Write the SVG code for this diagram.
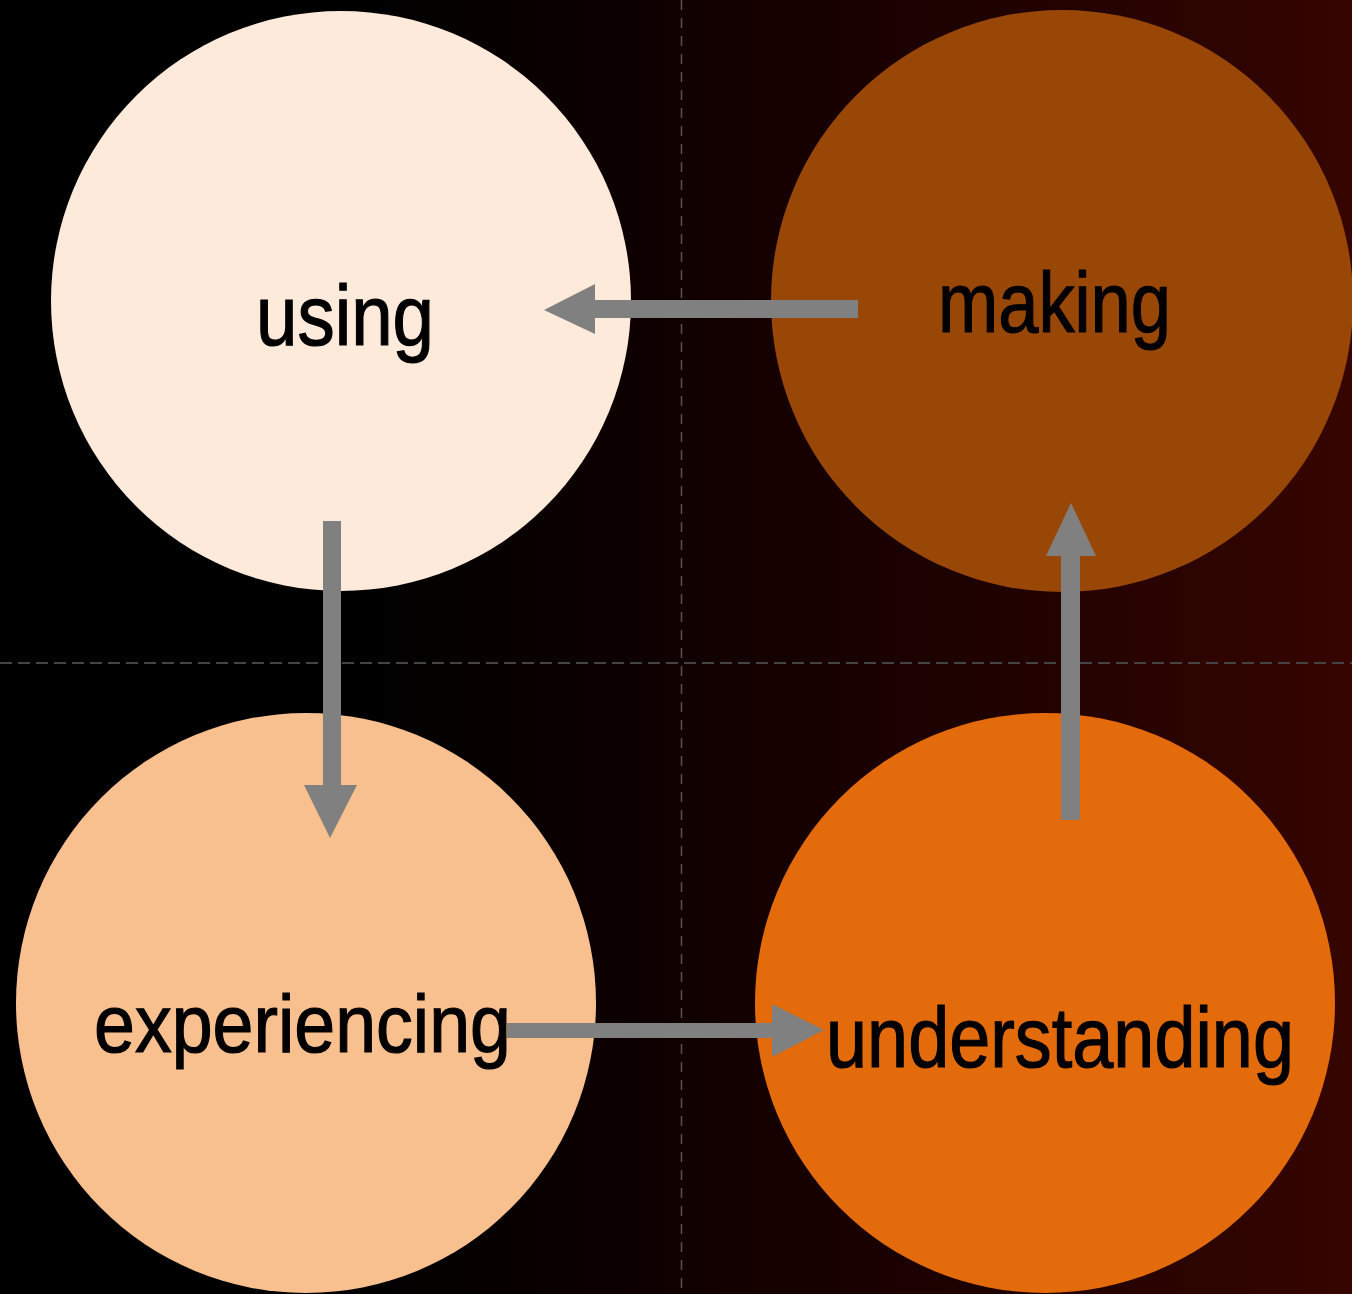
<svg xmlns="http://www.w3.org/2000/svg" width="1352" height="1294" viewBox="0 0 1352 1294">
  <defs>
    <linearGradient id="bg" x1="0" y1="0" x2="1352" y2="0" gradientUnits="userSpaceOnUse">
      <stop offset="0" stop-color="#000000"/>
      <stop offset="0.27" stop-color="#000000"/>
      <stop offset="0.5" stop-color="#100000"/>
      <stop offset="0.75" stop-color="#200200"/>
      <stop offset="1" stop-color="#360500"/>
    </linearGradient>
    <style>
      .lbl { font-family: "Liberation Sans Narrow", "Liberation Sans", Arial, sans-serif; fill: #000; stroke: #000; stroke-width: 1.2; text-anchor: middle; }
      .arrow { fill: #808080; }
    </style>
  </defs>
  <rect x="0" y="0" width="1352" height="1294" fill="url(#bg)"/>
  <g id="grid">
    <line x1="681.5" y1="0" x2="681.5" y2="1294" stroke="#555" stroke-width="1.5" stroke-dasharray="10 8"/>
    <line x1="0" y1="663" x2="1352" y2="663" stroke="#444" stroke-width="2" stroke-dasharray="12 6"/>
  </g>
  <g id="node-using">
    <circle cx="341" cy="301" r="290" fill="#fdeadb"/>
    <text class="lbl" x="345" y="345" font-size="86" textLength="178" lengthAdjust="spacingAndGlyphs">using</text>
  </g>
  <g id="node-making">
    <circle cx="1062" cy="301" r="291" fill="#994706"/>
    <text class="lbl" x="1054.5" y="332" font-size="86" textLength="233" lengthAdjust="spacingAndGlyphs">making</text>
  </g>
  <g id="node-experiencing">
    <circle cx="306" cy="1003" r="290" fill="#f9c08f"/>
    <text class="lbl" x="302.5" y="1052" font-size="82" textLength="417" lengthAdjust="spacingAndGlyphs">experiencing</text>
  </g>
  <g id="node-understanding">
    <circle cx="1045" cy="1003" r="290" fill="#e36b0b"/>
    <text class="lbl" x="1060" y="1067" font-size="85" textLength="468" lengthAdjust="spacingAndGlyphs">understanding</text>
  </g>
  <g id="connectors">
    <polygon class="arrow" points="858,300 595,300 595,284 544,310 595,334 595,318 858,318"/>
    <polygon class="arrow" points="323,521 341,521 341,785 357,785 330,838 304,785 323,785"/>
    <polygon class="arrow" points="507,1023 772,1023 772,1004 824,1030 772,1057 772,1038 507,1038"/>
    <polygon class="arrow" points="1061,820 1061,556 1046,556 1071,503 1096,556 1080,556 1080,820"/>
  </g>
</svg>
